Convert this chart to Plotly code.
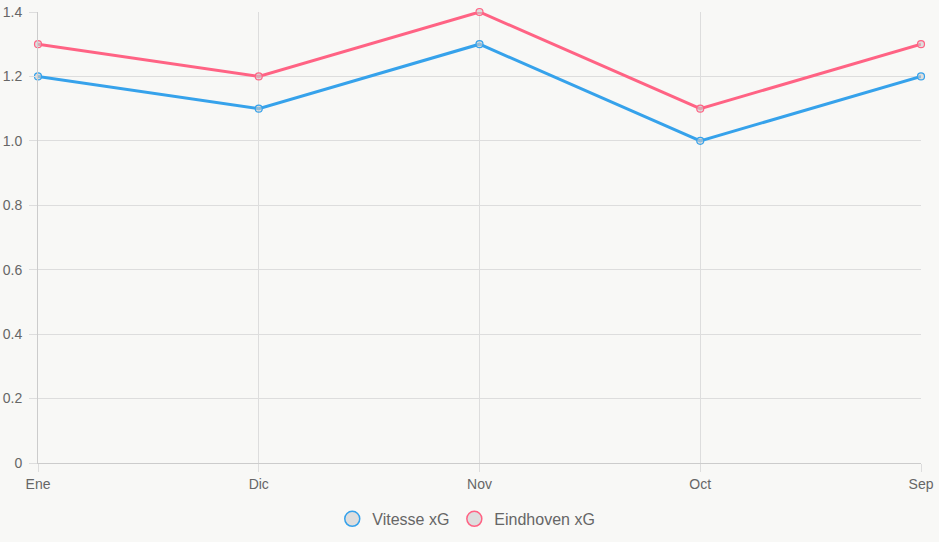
import plotly.graph_objects as go

categories = ["Ene", "Dic", "Nov", "Oct", "Sep"]
vitesse = [1.2, 1.1, 1.3, 1.0, 1.2]
eindhoven = [1.3, 1.2, 1.4, 1.1, 1.3]
y_ticks = [0, 0.2, 0.4, 0.6, 0.8, 1.0, 1.2, 1.4]
y_labels = ["0", "0.2", "0.4", "0.6", "0.8", "1.0", "1.2", "1.4"]

blue = "rgb(54,162,235)"
pink = "rgb(255,99,132)"
bg = "#f8f8f6"
grid = "#dddddd"

fig = go.Figure()
for name, vals, col in [("Vitesse xG", vitesse, blue), ("Eindhoven xG", eindhoven, pink)]:
    fig.add_trace(go.Scatter(
        x=categories, y=vals, mode="lines+markers", name=name, showlegend=False,
        line=dict(color=col, width=3),
        marker=dict(size=7, color="rgba(205,205,205,0.6)", line=dict(color=col, width=1.2)),
        cliponaxis=False,
    ))
    fig.add_trace(go.Scatter(
        x=[None], y=[None], mode="markers", name=name,
        marker=dict(size=15, color="rgb(222,222,222)", line=dict(color=col, width=1.5)),
    ))

fig.update_layout(
    width=939, height=542,
    margin=dict(l=38, r=18, t=12, b=79, autoexpand=False),
    paper_bgcolor=bg, plot_bgcolor=bg,
    font=dict(family="Liberation Sans, Arial, sans-serif", color="#666666", size=14),
    xaxis=dict(
        type="category", range=[0, 4], showgrid=True, gridcolor=grid, gridwidth=1,
        ticks="outside", ticklen=8, tickcolor=grid, showline=True, linecolor="#cccccc",
        tickfont=dict(size=14, color="#666666"), zeroline=False,
    ),
    yaxis=dict(
        range=[0, 1.4], tickvals=y_ticks, ticktext=y_labels, showgrid=True, gridcolor=grid,
        ticks="outside", ticklen=8, tickcolor=grid, showline=True, linecolor="#cccccc",
        tickfont=dict(size=14, color="#666666"), zeroline=False, ticklabelstandoff=4,
    ),
    legend=dict(
        orientation="h", x=0.485, xanchor="center",
        y=-0.124, yanchor="middle", font=dict(size=16, color="#666666"),
        bgcolor="rgba(0,0,0,0)", itemsizing="trace",
    ),
)

fig.write_html("out.html")
